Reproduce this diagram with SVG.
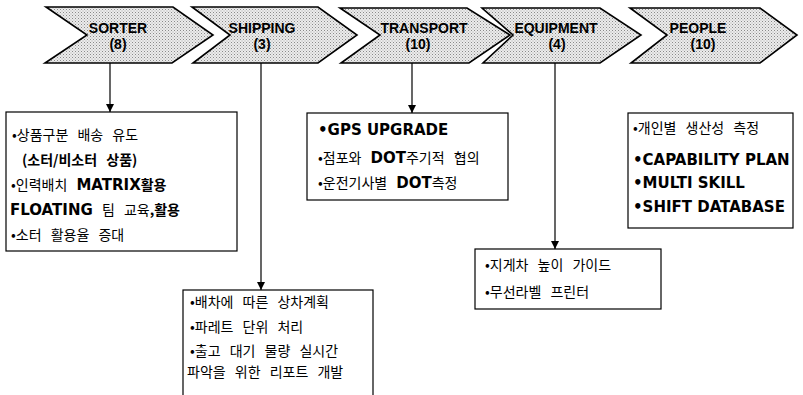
<svg xmlns="http://www.w3.org/2000/svg" width="803" height="395" viewBox="0 0 803 395">
<defs>
<pattern id="dots" width="3" height="3" patternUnits="userSpaceOnUse">
<rect width="3" height="3" fill="#ececec"/>
<rect x="0" y="0" width="1" height="1" fill="#8a8a8a"/>
<rect x="1.5" y="1.5" width="1" height="1" fill="#a8a8a8"/>
</pattern>
<marker id="ah" markerWidth="8" markerHeight="8" refX="8" refY="4" orient="auto" markerUnits="userSpaceOnUse">
<path d="M0,0 L8,4 L0,8 z" fill="#000"/>
</marker>
<style>
.chev{fill:url(#dots);stroke:#000;stroke-width:1.6;stroke-linejoin:miter}
.ct{font-family:"Liberation Sans",Arial,sans-serif;font-weight:bold;font-size:14px;text-anchor:middle;fill:#000}
.box{fill:#fff;stroke:#000;stroke-width:1.2}
.kt{font-family:"Noto Sans CJK KR",sans-serif;font-size:14px;word-spacing:6px;fill:#000}
.b{font-family:"DejaVu Sans","Noto Sans CJK KR",sans-serif;font-weight:bold;font-size:15px;word-spacing:0}
.kb{font-weight:bold}
.conn line{stroke:#000;stroke-width:1.2;marker-end:url(#ah)}
</style>
</defs>
<rect width="803" height="395" fill="#fff"/>

<g id="sorter">
<polygon class="chev" points="46,7 173,7 213,35 172,63 45,63 87,35"/>
<text class="ct" x="118" y="33">SORTER</text>
<text class="ct" x="118" y="49">(8)</text>
</g>
<g id="shipping">
<polygon class="chev" points="192,7 318,7 357,35 318,63 193,63 230,35"/>
<text class="ct" x="262" y="33">SHIPPING</text>
<text class="ct" x="262" y="49">(3)</text>
</g>
<g id="transport">
<polygon class="chev" points="340,8 467,8 510,35 469,63 341,63 380,35"/>
<text class="ct" x="424" y="33">TRANSPORT</text>
<text class="ct" x="418" y="49">(10)</text>
</g>
<g id="equipment">
<polygon class="chev" points="482,8 600,8 641,35 600,63 483,63 513,35"/>
<text class="ct" x="556" y="33">EQUIPMENT</text>
<text class="ct" x="557" y="49">(4)</text>
</g>
<g id="people">
<polygon class="chev" points="630,8 760,8 797,35 760,63 631,63 667,35"/>
<text class="ct" x="698" y="33">PEOPLE</text>
<text class="ct" x="703" y="49">(10)</text>
</g>

<g id="connectors" class="conn">
<line x1="110" y1="63" x2="110" y2="112"/>
<line x1="261" y1="63" x2="261" y2="290"/>
<line x1="412" y1="63" x2="412" y2="113"/>
<line x1="555" y1="63" x2="555" y2="249"/>
</g>

<g id="box-sorter">
<rect class="box" x="6" y="112" width="231" height="139"/>
<text class="kt" x="12" y="140">•상품구분 배송 유도</text>
<text class="kt kb" x="22" y="165">(소터/비소터 상품)</text>
<text class="kt" x="11" y="190">•인력배치 <tspan class="b">MATRIX</tspan><tspan class="kb">활용</tspan></text>
<text class="kt" x="10" y="215"><tspan class="b">FLOATING</tspan> 팀 교육<tspan class="kb">,활용</tspan></text>
<text class="kt" x="11" y="240">•소터 활용율 증대</text>
</g>

<g id="box-shipping">
<rect class="box" x="183" y="290" width="190" height="115"/>
<text class="kt" x="190" y="307">•배차에 따른 상차계획</text>
<text class="kt" x="190" y="332">•파레트 단위 처리</text>
<text class="kt" x="190" y="356">•출고 대기 물량 실시간</text>
<text class="kt" x="187" y="377">파악을 위한 리포트 개발</text>
</g>

<g id="box-transport">
<rect class="box" x="307" y="113" width="201" height="87"/>
<text class="kt" x="318" y="135"><tspan class="b">•GPS UPGRADE</tspan></text>
<text class="kt" x="318" y="163">•점포와 <tspan class="b">DOT</tspan>주기적 협의</text>
<text class="kt" x="318" y="188">•운전기사별 <tspan class="b">DOT</tspan>측정</text>
</g>

<g id="box-equipment">
<rect class="box" x="475" y="249" width="186" height="60"/>
<text class="kt" x="485" y="270">•지게차 높이 가이드</text>
<text class="kt" x="485" y="297">•무선라벨 프린터</text>
</g>

<g id="box-people">
<rect class="box" x="628" y="113" width="165" height="115"/>
<text class="kt" x="633" y="133">•개인별 생산성 측정</text>
<text class="kt" x="633" y="165"><tspan class="b">•CAPABILITY PLAN</tspan></text>
<text class="kt" x="633" y="188"><tspan class="b">•MULTI SKILL</tspan></text>
<text class="kt" x="633" y="212"><tspan class="b">•SHIFT DATABASE</tspan></text>
</g>
</svg>
